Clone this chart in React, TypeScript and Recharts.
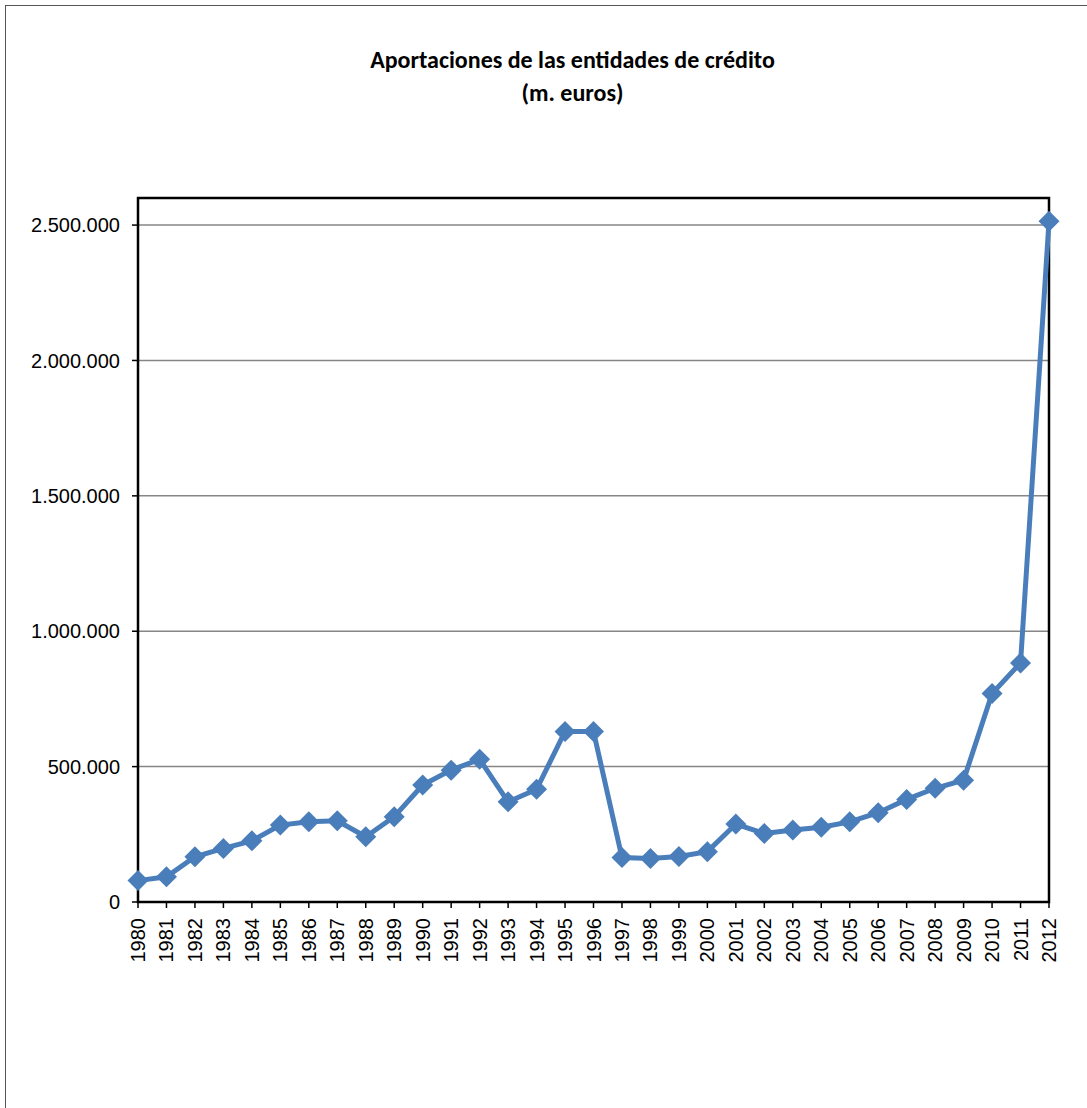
import { LineChart, Line, XAxis, YAxis, CartesianGrid, ReferenceArea } from "recharts";

const years = [
  "1980", "1981", "1982", "1983", "1984", "1985", "1986", "1987", "1988", "1989",
  "1990", "1991", "1992", "1993", "1994", "1995", "1996", "1997", "1998", "1999",
  "2000", "2001", "2002", "2003", "2004", "2005", "2006", "2007", "2008", "2009",
  "2010", "2011", "2012",
];

const aportaciones = [
  79000, 93000, 167000, 198000, 226000, 284000, 296000, 300000, 241000, 315000,
  432000, 487000, 527000, 370000, 416000, 630000, 630000, 164000, 161000, 168000,
  186000, 288000, 253000, 266000, 276000, 296000, 330000, 379000, 420000, 450000,
  770000, 883000, 2514000,
];

const yTicks = [0, 500000, 1000000, 1500000, 2000000, 2500000];

const data = years.map((year, i) => ({ year, value: aportaciones[i] }));

const BLUE = "#4a7ebb";
const FONT = "'Liberation Sans', Arial, sans-serif";

const fmt = (v: number) => v.toLocaleString("de-DE");

function Diamond(props: any) {
  const { cx, cy } = props;
  if (cx == null || cy == null) return null;
  const r = 10.5;
  return (
    <path
      d={`M${cx},${cy - r}L${cx + r},${cy}L${cx},${cy + r}L${cx - r},${cy}Z`}
      fill={BLUE}
    />
  );
}

function YearTick(props: any) {
  const { x, y, payload } = props;
  return (
    <text
      x={0}
      y={0}
      transform={`translate(${x + 7},${y + 8}) rotate(-90)`}
      textAnchor="end"
      fontSize={20}
      fontFamily={FONT}
      fill="#000"
    >
      {payload.value}
    </text>
  );
}

export default function App() {
  return (
    <div style={{ position: "absolute", left: 0, top: 0, width: 1087, height: 1108, background: "#fff", overflow: "hidden" }}>
      <div
        style={{
          position: "absolute",
          left: 5,
          top: 5,
          width: 1200,
          height: 1200,
          border: "1.5px solid #555",
          boxSizing: "border-box",
        }}
      />
      <div
        style={{
          position: "absolute",
          left: 0,
          top: 43,
          width: 1145,
          textAlign: "center",
          fontFamily: "Carlito, Calibri, 'Open Sans', sans-serif",
          fontWeight: "bold",
          fontSize: 24,
          lineHeight: "33px",
          color: "#000",
        }}
      >
        Aportaciones de las entidades de crédito
        <br />
        (m. euros)
      </div>
      <LineChart
        width={1087}
        height={1108}
        data={data}
        margin={{ top: 198, right: 38, left: 8, bottom: 126 }}
        style={{ position: "absolute", left: 0, top: 0 }}
      >
        <CartesianGrid vertical={false} stroke="#868686" strokeWidth={1.5} />
        <XAxis
          dataKey="year"
          type="category"
          interval={0}
          padding={{ left: 0, right: 0 }}
          height={80}
          tickSize={6}
          tick={<YearTick />}
          axisLine={{ stroke: "#000", strokeWidth: 2 }}
          tickLine={{ stroke: "#000", strokeWidth: 1.5 }}
        />
        <YAxis
          width={130}
          domain={[0, 2600000]}
          ticks={yTicks}
          allowDataOverflow
          tickFormatter={fmt}
          tickSize={6}
          tickMargin={12}
          tick={{ fontSize: 20, fontFamily: FONT, fill: "#000" }}
          axisLine={{ stroke: "#000", strokeWidth: 2 }}
          tickLine={{ stroke: "#000", strokeWidth: 1.5 }}
        />
        <ReferenceArea
          x1="1980"
          x2="2012"
          y1={0}
          y2={2600000}
          fill="none"
          fillOpacity={0}
          stroke="#000"
          strokeWidth={2.5}
          ifOverflow="visible"
        />
        <Line
          type="linear"
          dataKey="value"
          stroke={BLUE}
          strokeWidth={5}
          dot={<Diamond />}
          activeDot={false}
          isAnimationActive={false}
        />
      </LineChart>
    </div>
  );
}
